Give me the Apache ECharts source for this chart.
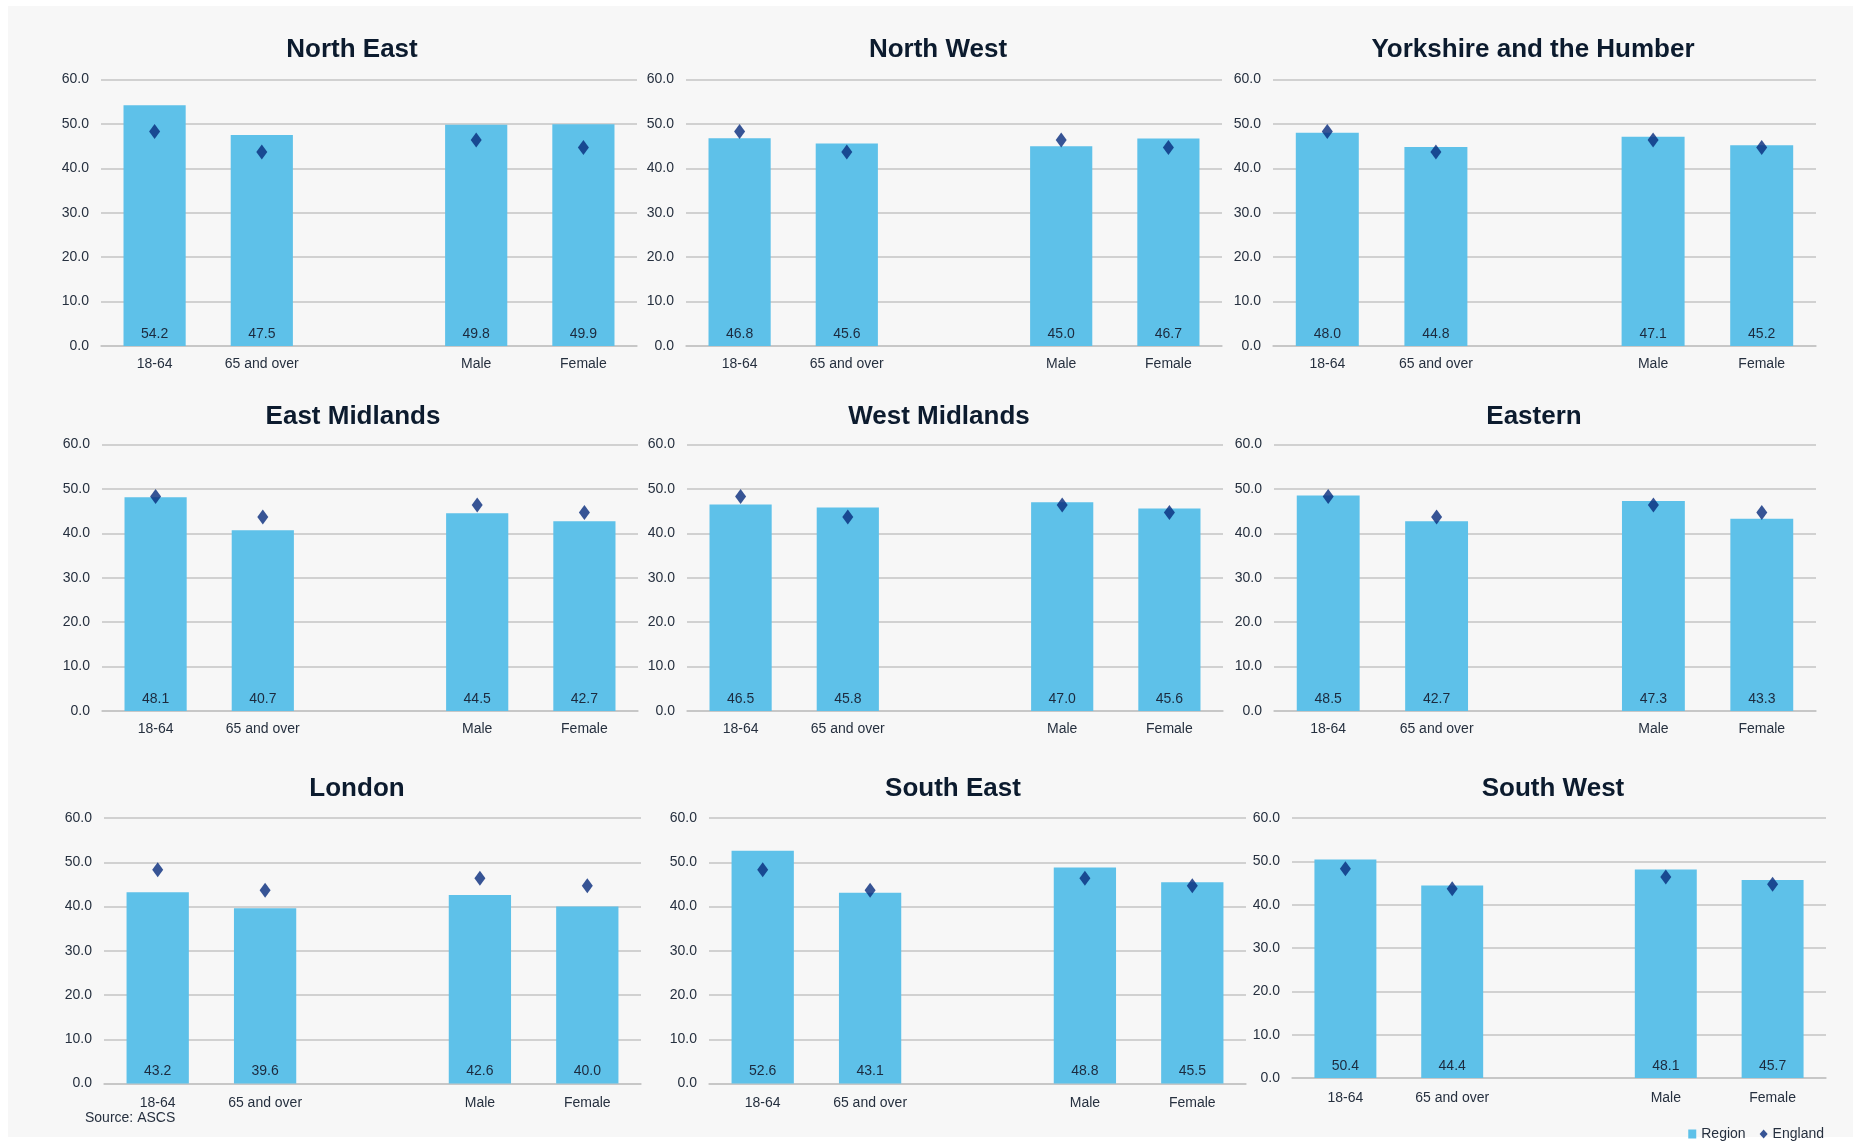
<!DOCTYPE html>
<html>
<head>
<meta charset="utf-8">
<script src="https://cdn.jsdelivr.net/npm/echarts@6/dist/echarts.min.js"></script>
<style>
html,body{margin:0;padding:0;background:#ffffff;}
#chart{width:1859px;height:1142px;}
</style>
</head>
<body>
<div id="chart"></div>
<script>
// ---- data ----
const categories = ['18-64', '65 and over', '', 'Male', 'Female'];
const yTicks = [0, 10, 20, 30, 40, 50, 60];
const regions = ['North East', 'North West', 'Yorkshire and the Humber',
                 'East Midlands', 'West Midlands', 'Eastern',
                 'London', 'South East', 'South West'];
const northEast   = [54.2, 47.5, null, 49.8, 49.9];
const northWest   = [46.8, 45.6, null, 45.0, 46.7];
const yorkshire   = [48.0, 44.8, null, 47.1, 45.2];
const eastMid     = [48.1, 40.7, null, 44.5, 42.7];
const westMid     = [46.5, 45.8, null, 47.0, 45.6];
const eastern     = [48.5, 42.7, null, 47.3, 43.3];
const london      = [43.2, 39.6, null, 42.6, 40.0];
const southEast   = [52.6, 43.1, null, 48.8, 45.5];
const southWest   = [50.4, 44.4, null, 48.1, 45.7];
const england     = [48.3, 43.7, null, 46.4, 44.7];
const regionValues = [northEast, northWest, yorkshire, eastMid, westMid, eastern, london, southEast, southWest];

// ---- layout (pixels) ----
const panels = [
  {l:101, r:637,  t:79.5, b:346,  tx:352,  ty:52, lm:11},
  {l:686, r:1222, t:79.5, b:346,  tx:938,  ty:52, lm:11},
  {l:1273,r:1816, t:79.5, b:346,  tx:1533, ty:52, lm:11},
  {l:102, r:638,  t:444.5,b:711,  tx:353,  ty:419, lm:11},
  {l:687, r:1223, t:444.5,b:711,  tx:939,  ty:419, lm:11},
  {l:1274,r:1816, t:444.5,b:711,  tx:1534, ty:419, lm:11},
  {l:104, r:641,  t:818,  b:1083.5,tx:357, ty:791, lm:13},
  {l:709, r:1246, t:818,  b:1083.5,tx:953, ty:791, lm:13},
  {l:1292,r:1826, t:818,  b:1078, tx:1553, ty:791, lm:13}
];

const textColor = '#26303f';
const gridColor = '#c4c4c4';
const barColor = '#5ec1e9';
const diamondColor = '#062a7c';
const fontFamily = '"Liberation Sans", Arial, sans-serif';

const grid = [], xAxis = [], yAxis = [], series = [], title = [];
panels.forEach((p, i) => {
  grid.push({left: p.l, top: p.t, width: p.r - p.l, height: p.b - p.t, containLabel: false});
  title.push({
    text: regions[i], left: p.tx, top: p.ty - 15, textAlign: 'center', padding: 0,
    textStyle: {fontFamily, fontSize: 26, fontWeight: 'bold', color: '#0c1b2e'}
  });
  xAxis.push({
    type: 'category', gridIndex: i, data: categories,
    axisLine: {show: true, lineStyle: {color: gridColor, width: 1.5}},
    axisTick: {show: false},
    axisLabel: {color: textColor, fontFamily, fontSize: 14, margin: p.lm, interval: 0}
  });
  yAxis.push({
    type: 'value', gridIndex: i, min: yTicks[0], max: yTicks[yTicks.length - 1], interval: 10,
    axisLine: {show: false}, axisTick: {show: false},
    splitLine: {lineStyle: {color: gridColor, width: 1.5}},
    axisLabel: {color: textColor, fontFamily, fontSize: 14, margin: 12,
                formatter: v => v.toFixed(1)}
  });
  series.push({
    name: 'Region', type: 'bar', xAxisIndex: i, yAxisIndex: i,
    data: regionValues[i], barWidth: '58%',
    itemStyle: {color: barColor},
    label: {show: true, position: 'insideBottom', distance: 5, color: '#1c2a3e',
            fontFamily, fontSize: 14, formatter: d => d.value.toFixed(1)},
    silent: true, z: 2
  });
  series.push({
    name: 'England', type: 'scatter', xAxisIndex: i, yAxisIndex: i,
    data: england, symbol: 'diamond', symbolSize: [11, 15],
    itemStyle: {color: diamondColor},
    silent: true, z: 3
  });
});

const chart = echarts.init(document.getElementById('chart'), null, {renderer: 'canvas'});
chart.setOption({
  animation: false,
  backgroundColor: '#ffffff',
  title,
  grid, xAxis, yAxis, series,
  legend: {
    data: [{name: 'Region', icon: 'rect'}, {name: 'England', icon: 'diamond'}],
    right: 30, top: 1122, itemWidth: 8, itemHeight: 9, itemGap: 14,
    textStyle: {color: textColor, fontFamily, fontSize: 14},
    selectedMode: false
  },
  graphic: [
    {type: 'rect', z: -10, silent: true, shape: {x: 8, y: 6, width: 1845, height: 1131},
     style: {fill: '#f7f7f7'}},
    {type: 'text', left: 85, top: 1111, silent: true,
     style: {text: 'Source: ASCS', fill: textColor, font: '14px "Liberation Sans", Arial, sans-serif'}}
  ]
});
</script>
</body>
</html>
